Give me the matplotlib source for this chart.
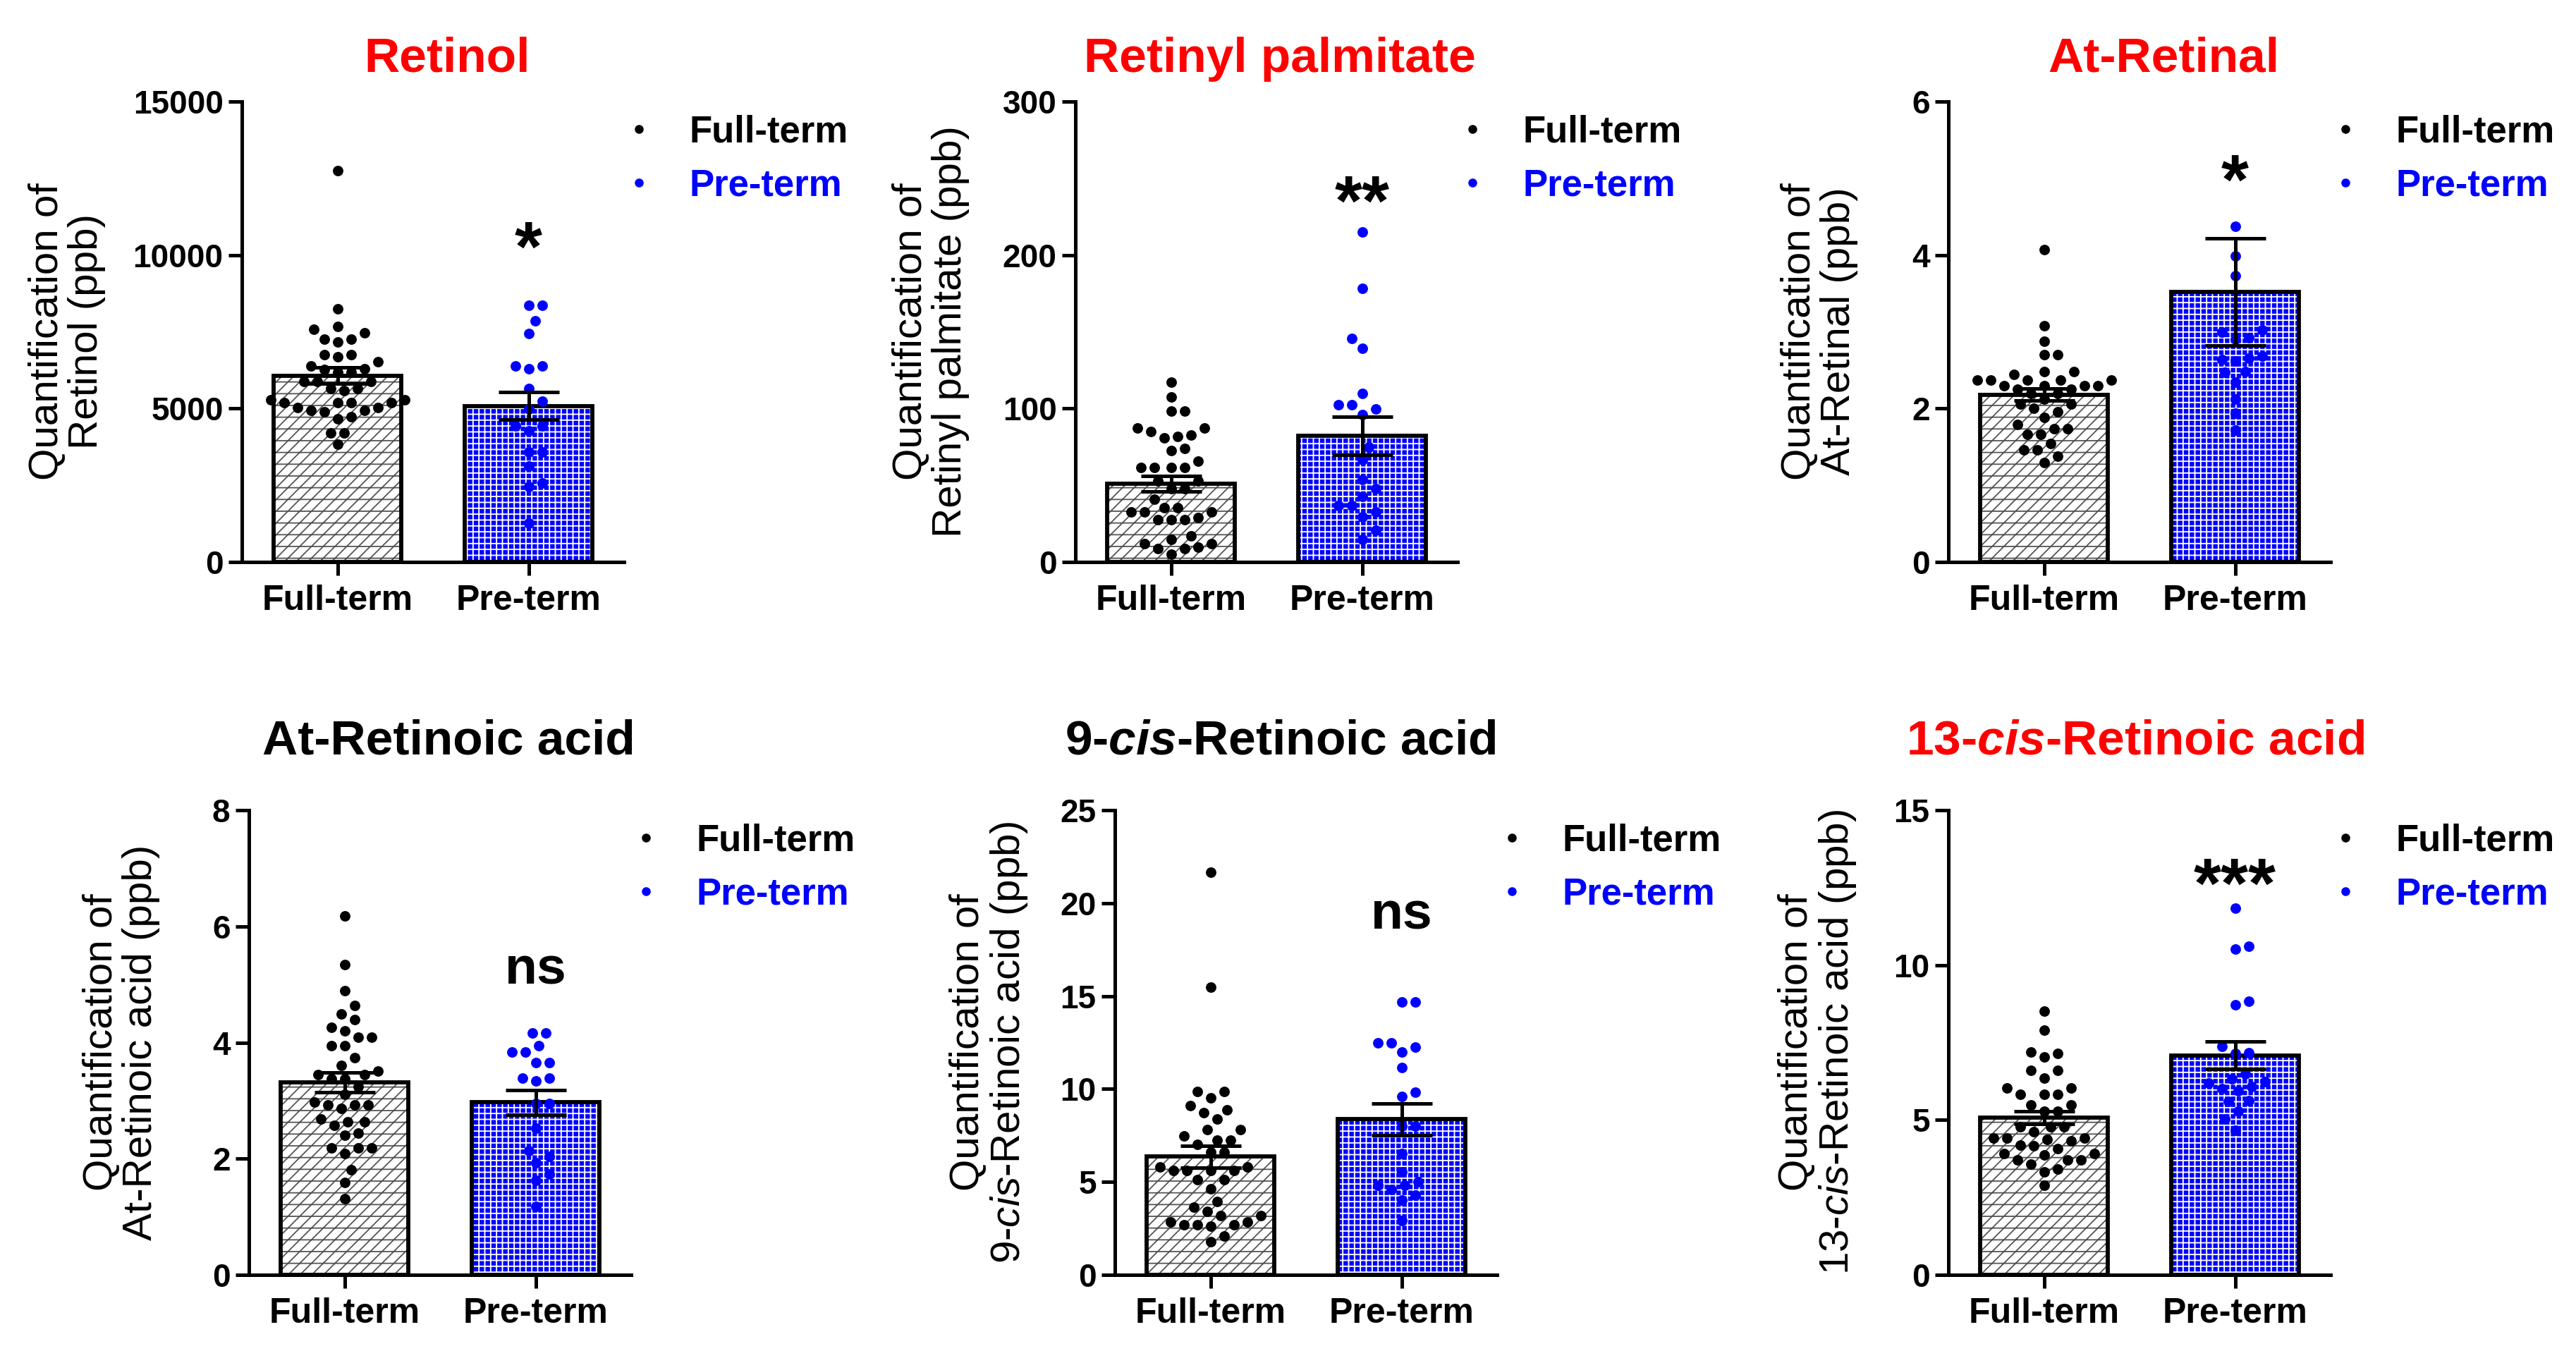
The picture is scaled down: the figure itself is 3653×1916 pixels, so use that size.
import numpy as np
import matplotlib
matplotlib.use("Agg")
import matplotlib.pyplot as plt
from matplotlib.lines import Line2D
from matplotlib import transforms

plt.rcParams['font.family'] = ['Liberation Sans', 'DejaVu Sans']
plt.rcParams['mathtext.fontset'] = 'custom'
plt.rcParams['mathtext.rm'] = 'Liberation Sans'
plt.rcParams['mathtext.it'] = 'Liberation Sans:italic'
plt.rcParams['mathtext.bf'] = 'Liberation Sans:bold'
plt.rcParams['mathtext.bfit'] = 'Liberation Sans:bold:italic'
plt.rcParams['hatch.linewidth'] = 1.3

# ---------------- data ----------------
groups = ["Full-term", "Pre-term"]

retinol_full = [12740, 8257, 7683, 7573, 7472, 7250, 7250, 7170, 6747, 6747, 6676, 6525,
                6394, 6273, 6290, 6190, 6190, 5890, 5890, 5890, 5640, 5640, 5590, 5290,
                5290, 5185, 5185, 5185, 5185, 5035, 5035, 4934, 4934, 4884, 4733, 4652,
                4209, 4209, 3826]
retinol_pre = [8358, 8358, 7855, 7452, 6394, 6394, 6294, 5640, 5236, 4985, 4430, 4430,
               4280, 3575, 3575, 3122, 2568, 2467, 1259]
retinol_mean = [6072, 5085]
retinol_sem = [270, 450]

palm_full = [117, 107.4, 98.3, 98.3, 87.3, 87.3, 82.8, 80.8, 81.8, 84.9, 72.8, 73.8, 65.8,
             61.7, 61.7, 61.7, 61.7, 53, 53, 47.7, 47.7, 41, 35.2, 35.2, 32.6, 32.6, 32.6,
             27.5, 27.5, 27.5, 29, 17.1, 14.5, 12.1, 12.1, 8.8, 8.8, 9.5, 5]
palm_pre = [215.2, 178.4, 145.8, 139.2, 109.6, 102.6, 102.6, 99.9, 95.9, 74.8, 66.8, 53.7,
            47.7, 42.6, 36.6, 36.6, 32.6, 29.6, 20.5, 14.9]
palm_mean = [51.1, 82.4]
palm_sem = [5.0, 12.4]

retinal_full = [4.07, 3.08, 2.88, 2.70, 2.70, 2.48, 2.48, 2.44, 2.37, 2.37, 2.37, 2.37, 2.37,
                2.30, 2.30, 2.30, 2.30, 2.25, 2.25, 2.20, 2.20, 2.12, 2.06, 2.06, 2.00, 1.96,
                1.88, 1.79, 1.74, 1.74, 1.66, 1.66, 1.54, 1.46, 1.46, 1.38, 1.30]
retinal_pre = [4.37, 3.99, 3.73, 3.02, 3.00, 2.92, 2.90, 2.68, 2.64, 2.62, 2.66, 2.48, 2.47,
               2.34, 2.12, 1.94, 1.72]
retinal_mean = [2.18, 3.52]
retinal_sem = [0.08, 0.70]

atra_full = [6.18, 5.34, 4.89, 4.64, 4.49, 4.39, 4.26, 4.20, 4.09, 4.09, 3.95, 3.95, 3.74,
             3.61, 3.51, 3.45, 3.45, 3.38, 3.38, 3.24, 3.11, 2.97, 2.92, 2.92, 2.92, 2.86,
             2.68, 2.64, 2.64, 2.57, 2.44, 2.40, 2.19, 2.19, 2.19, 2.09, 1.81, 1.59, 1.31]
atra_pre = [4.16, 4.16, 3.95, 3.84, 3.84, 3.66, 3.66, 3.39, 3.39, 3.34, 2.95, 2.95, 2.52,
            2.14, 2.04, 1.93, 1.74, 1.63, 1.18]
atra_mean = [3.31, 2.97]
atra_sem = [0.17, 0.21]

cis9_full = [21.68, 15.46, 9.85, 9.85, 9.51, 9.09, 8.87, 8.71, 8.37, 7.82, 7.82, 7.49, 7.25,
             7.25, 7.03, 6.6, 6.6, 5.81, 5.81, 5.61, 5.61, 5.61, 5.61, 5.11, 5.11, 4.64,
             3.93, 3.63, 3.43, 3.18, 3.18, 2.85, 2.85, 2.71, 2.71, 2.71, 2.6, 2.09, 1.79]
cis9_pre = [14.7, 14.7, 12.5, 12.5, 12.27, 12.0, 11.14, 9.83, 9.6, 7.99, 7.99, 6.53, 5.53,
            5.02, 4.8, 4.8, 4.6, 4.27, 4.02, 2.93]
cis9_mean = [6.36, 8.37]
cis9_sem = [0.58, 0.85]

cis13_full = [8.52, 7.89, 7.19, 7.14, 7.04, 6.61, 6.60, 6.36, 6.03, 6.03, 5.83, 5.83, 5.83,
              5.48, 5.48, 5.28, 5.28, 4.79, 4.79, 4.79, 4.62, 4.42, 4.42, 4.42, 4.37, 4.32,
              4.19, 4.17, 4.07, 3.92, 3.92, 3.87, 3.72, 3.72, 3.72, 3.57, 3.42, 3.32, 2.88]
cis13_pre = [11.83, 10.60, 10.52, 8.84, 8.72, 7.37, 7.17, 7.14, 6.48, 6.33, 6.23, 6.20, 6.08,
             6.00, 5.93, 5.63, 5.60, 5.28, 5.03, 4.67]
cis13_mean = [5.08, 7.09]
cis13_sem = [0.20, 0.44]

titles = ["Retinol", "Retinyl palmitate", "At-Retinal", "At-Retinoic acid",
          r"9-$\mathbfit{cis}$-Retinoic acid", r"13-$\mathbfit{cis}$-Retinoic acid"]
title_colors = ["#FF0000", "#FF0000", "#FF0000", "black", "black", "#FF0000"]
ylabels = ["Quantification of\nRetinol (ppb)",
           "Quantification of\nRetinyl palmitate (ppb)",
           "Quantification of\nAt-Retinal (ppb)",
           "Quantification of\nAt-Retinoic acid (ppb)",
           "Quantification of\n9-$\\mathit{cis}$-Retinoic acid (ppb)",
           "Quantification of\n13-$\\mathit{cis}$-Retinoic acid (ppb)"]
yticks = [[0, 5000, 10000, 15000], [0, 100, 200, 300], [0, 2, 4, 6],
          [0, 2, 4, 6, 8], [0, 5, 10, 15, 20, 25], [0, 5, 10, 15]]
sig_labels = ["*", "**", "*", "ns", "ns", "***"]
sig_values = [10800, 246, 5.19, 5.24, 19.35, 13.16]

full_vals = [retinol_full, palm_full, retinal_full, atra_full, cis9_full, cis13_full]
pre_vals = [retinol_pre, palm_pre, retinal_pre, atra_pre, cis9_pre, cis13_pre]
means = [retinol_mean, palm_mean, retinal_mean, atra_mean, cis9_mean, cis13_mean]
sems = [retinol_sem, palm_sem, retinal_sem, atra_sem, cis9_sem, cis13_sem]

# ---------------- layout (pixels) ----------------
W, H = 3653, 1916
fig = plt.figure(figsize=(W / 100, H / 100), dpi=100)
ax_left = [343, 1525, 2763, 353, 1581, 2763]
ax_w = 542
row_top = [144, 1149]
row_bot = [797, 1808]
title_x = [634, 1815, 3068, 636, 1816, 3028]
title_base = [102, 1070]
ylab_x = [95, 1320, 2580, 172, 1403, 2578]
ylab_y = [470, 1478]

BLUE = "#0000FF"
px_per_x = ax_w / 2.0


def swarm(vals, ymax, hpx, dmin=19.0):
    ys = np.asarray(vals, float) / ymax * hpx
    order = np.argsort(ys)
    xs = np.zeros(len(ys))
    placed = []
    step = dmin / 4.0
    cands = [0.0]
    for k in range(1, 40):
        cands += [-k * step, k * step] if k % 2 else [k * step, -k * step]
    for i in order:
        y = ys[i]
        for c in cands:
            ok = True
            for (px, py) in placed:
                if (c - px) ** 2 + (y - py) ** 2 < dmin ** 2:
                    ok = False
                    break
            if ok:
                xs[i] = c
                placed.append((c, y))
                break
    return xs / px_per_x


for i in range(6):
    r = i // 3
    top, bot = row_top[r], row_bot[r]
    hpx = bot - top
    ax = fig.add_axes([ax_left[i] / W, 1 - bot / H, ax_w / W, hpx / H])
    ymax = yticks[i][-1]
    ax.set_xlim(-0.5, 1.5)
    ax.set_ylim(0, ymax)
    xpos = np.arange(2)

    # hatched fills
    b0 = ax.bar(xpos[0], means[i][0], width=0.67, facecolor="white", edgecolor="#555555",
                hatch="//-", linewidth=0, zorder=1)
    b1 = ax.bar(xpos[1], means[i][1], width=0.67, facecolor=BLUE, edgecolor="white",
                hatch="++", linewidth=0, zorder=1)
    for p in b1.patches:
        if hasattr(p, "set_hatch_linewidth"):
            p.set_hatch_linewidth(1.35)
    for p in b0.patches:
        if hasattr(p, "set_hatch_linewidth"):
            p.set_hatch_linewidth(1.3)
    # outlines
    ax.bar(xpos, means[i], width=0.67, fill=False, edgecolor="black", linewidth=4.2, zorder=2)

    # points
    for g, vals, col in [(0, full_vals[i], "black"), (1, pre_vals[i], BLUE)]:
        xo = swarm(vals, ymax, hpx)
        ax.scatter(g + xo, vals, s=115, color=col, linewidths=0, zorder=3, clip_on=False)

    # error bars (SEM)
    ax.errorbar(xpos, means[i], yerr=sems[i], fmt="none", ecolor="black", elinewidth=3.6,
                capsize=31, capthick=3.6, zorder=4)

    # axes styling
    for s in ["top", "right"]:
        ax.spines[s].set_visible(False)
    for s in ["left", "bottom"]:
        ax.spines[s].set_linewidth(3.6)
    ax.set_yticks(yticks[i])
    ax.set_yticklabels([str(t) for t in yticks[i]], fontsize=33, fontweight="bold")
    ax.set_xticks(xpos)
    ax.set_xticklabels(groups, fontsize=36, fontweight="bold")
    ax.tick_params(axis="both", direction="out", length=14, width=3.6)
    ax.tick_params(axis="y", pad=5)
    ax.tick_params(axis="x", pad=9)

    # significance
    fs = 72 if "*" in sig_labels[i] else 54
    off = -0.57 * fs if "*" in sig_labels[i] else -0.26 * fs
    tr = transforms.offset_copy(ax.transData, fig=fig, y=off, units="points")
    ax.text(1, sig_values[i], sig_labels[i], transform=tr, ha="center", va="baseline",
            fontsize=fs, fontweight="bold", zorder=5)

    # legend
    handles = [Line2D([], [], linestyle="none", marker="o", markersize=8, color="black"),
               Line2D([], [], linestyle="none", marker="o", markersize=8, color=BLUE)]
    ax.legend(handles, groups, loc="upper left",
              bbox_to_anchor=(1.005, 0.972), frameon=False,
              handlelength=0.7, handletextpad=1.0, labelspacing=0.5,
              borderpad=0, borderaxespad=0, prop={"weight": "bold", "size": 38},
              labelcolor=["black", BLUE])

    # title and y label
    fig.text(title_x[i] / W, 1 - title_base[r] / H, titles[i], ha="center", va="baseline",
             fontsize=50, fontweight="bold", color=title_colors[i])
    fig.text(ylab_x[i] / W, 1 - ylab_y[r] / H, ylabels[i], rotation=90, ha="center",
             va="center", multialignment="center", fontsize=42, linespacing=1.05)

fig.savefig("out.png", dpi=100, facecolor="white")
